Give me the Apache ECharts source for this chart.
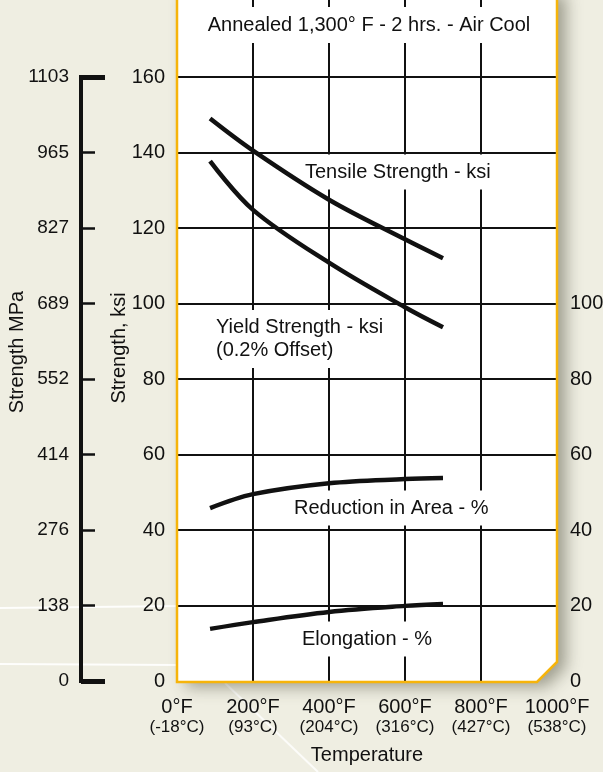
<!DOCTYPE html>
<html lang="en">
<head>
    <meta charset="UTF-8">
    <title>Annealed 1,300° F - Strength vs Temperature</title>
    <style>
        * { margin: 0; padding: 0; }
        body { background: #efeee2; }
        #chart { width: 603px; height: 772px; }
    </style>
</head>
<body>
    <div id="chart"></div>
</body>
</html>
<script src="https://cdn.jsdelivr.net/npm/echarts@6/dist/echarts.min.js"></script>
<script>
    const tempF = [87, 200, 400, 600, 700];
    const tensile = [149, 140.5, 127.5, 117, 112];
    const yieldStr = [137.7, 124.8, 110.8, 99, 93.7];
    const reduction = [45.8, 49.5, 52.4, 53.5, 53.8];
    const elongation = [13.8, 15.6, 18.3, 19.9, 20.4];

    // axis tick labels
    const xTicks = [0, 200, 400, 600, 800, 1000];
    const xTicksC = ['-18', '93', '204', '316', '427', '538'];
    const ksiTicks = [0, 20, 40, 60, 80, 100, 120, 140, 160];
    const mpaTicks = ['0', '138', '276', '414', '552', '689', '827', '965', '1103'];

    const font = "'Liberation Sans', Arial, sans-serif";
    const ink = '#111';
    const gold = '#f6b40a';

    var myChart = echarts.init(document.getElementById('chart'));

    function curve(name, data) {
        return {
            name: name,
            type: 'line',
            xAxisIndex: 0,
            yAxisIndex: 0,
            smooth: 0.35,
            symbol: 'none',
            z: 5,
            lineStyle: { color: ink, width: 4.5 },
            data: tempF.map((t, i) => [t, data[i]])
        };
    }

    function boxText(x, y, text) {
        return {
            type: 'text',
            x: x,
            y: y,
            z: 1,
            style: {
                text: text,
                font: '20px ' + font,
                fill: ink,
                verticalAlign: 'middle',
                backgroundColor: '#fff',
                padding: [6, 3, 6, 3],
                lineHeight: 23
            }
        };
    }

    myChart.setOption({
        backgroundColor: '#efeee2',
        animation: false,
        textStyle: { fontFamily: font },
        grid: [
            { left: 177, right: 46, top: 77, bottom: 91, containLabel: false, outerBoundsMode: 'none' },
            { left: 177, right: 46, top: 0, height: 77, containLabel: false, outerBoundsMode: 'none' }
        ],
        xAxis: [{
            gridIndex: 0,
            type: 'value',
            min: 0,
            max: 1000,
            interval: 200,
            name: 'Temperature',
            nameLocation: 'middle',
            nameGap: 64,
            nameMoveOverlap: false,
            nameTextStyle: { fontSize: 20, color: ink, verticalAlign: 'top' },
            axisLine: { show: false },
            axisTick: { show: false },
            splitLine: { show: true, showMinLine: false, showMaxLine: false, lineStyle: { color: ink, width: 2 } },
            axisLabel: {
                margin: 16,
                formatter: function (v) {
                    var i = xTicks.indexOf(v);
                    return '{f|' + v + '°F}\n{c|(' + xTicksC[i] + '°C)}';
                },
                rich: {
                    f: { fontSize: 20, color: ink, lineHeight: 20, fontFamily: font },
                    c: { fontSize: 17, color: ink, lineHeight: 20, fontFamily: font }
                }
            }
        }, {
            gridIndex: 1,
            type: 'value',
            min: 0,
            max: 1000,
            interval: 200,
            axisLine: { show: false },
            axisTick: { show: false },
            axisLabel: { show: false },
            splitLine: { show: true, showMinLine: false, showMaxLine: false, lineStyle: { color: ink, width: 2 } }
        }],
        yAxis: [{
            gridIndex: 0,
            type: 'value',
            position: 'left',
            min: 0,
            max: 160,
            interval: 20,
            name: 'Strength, ksi',
            nameLocation: 'middle',
            nameRotate: 90,
            nameGap: 48,
            nameMoveOverlap: false,
            nameTextStyle: { fontSize: 20, color: ink, padding: [0, 0, 0, 62] },
            axisLine: { show: false },
            axisTick: { show: false },
            axisLabel: { fontSize: 20, color: ink, margin: 12 },
            splitLine: { show: true, showMinLine: false, lineStyle: { color: ink, width: 2 } }
        }, {
            gridIndex: 0,
            type: 'value',
            position: 'right',
            min: 0,
            max: 160,
            interval: 20,
            axisLine: { show: false },
            axisTick: { show: false },
            splitLine: { show: false },
            axisLabel: {
                fontSize: 20, color: ink, margin: 13,
                formatter: (v) => (v <= 100 ? String(v) : '')
            }
        }, {
            gridIndex: 0,
            type: 'value',
            position: 'left',
            offset: 96,
            min: 0,
            max: 160,
            interval: 20,
            name: 'Strength MPa',
            nameLocation: 'middle',
            nameRotate: 90,
            nameGap: 54,
            nameMoveOverlap: false,
            nameTextStyle: { fontSize: 20, color: ink, padding: [0, 0, 0, 54] },
            axisLine: { show: true, lineStyle: { color: ink, width: 4, cap: 'square' } },
            axisTick: { show: true, inside: true, length: 14, lineStyle: { color: ink, width: 2.5 } },
            splitLine: { show: false },
            axisLabel: {
                fontSize: 19, color: ink, margin: 12,
                formatter: (v) => mpaTicks[ksiTicks.indexOf(v)]
            }
        }, {
            // end caps of the MPa scale
            gridIndex: 0,
            type: 'value',
            position: 'left',
            offset: 96,
            min: 0,
            max: 160,
            interval: 160,
            axisLine: { show: false },
            axisTick: { show: true, inside: true, length: 24, lineStyle: { color: ink, width: 5 } },
            axisLabel: { show: false },
            splitLine: { show: false }
        }, {
            gridIndex: 1,
            type: 'value',
            min: 0,
            max: 1,
            show: false
        }],
        graphic: [
            // faint background streaks
            { type: 'line', z: -20, shape: { x1: 0, y1: 608, x2: 180, y2: 606 }, style: { stroke: '#ffffff', lineWidth: 2, opacity: 0.9 } },
            { type: 'line', z: -20, shape: { x1: 0, y1: 664, x2: 180, y2: 665 }, style: { stroke: '#ffffff', lineWidth: 2, opacity: 0.9 } },
            { type: 'line', z: -20, shape: { x1: 225, y1: 683, x2: 318, y2: 772 }, style: { stroke: '#ffffff', lineWidth: 2, opacity: 0.8 } },
            // white panel with shadow
            {
                type: 'polygon',
                z: -10,
                shape: { points: [[177, -10], [557, -10], [557, 662], [537, 682], [177, 682]] },
                style: {
                    fill: '#ffffff',
                    shadowBlur: 16,
                    shadowColor: 'rgba(60,60,40,0.45)',
                    shadowOffsetX: 9,
                    shadowOffsetY: 5
                }
            },
            // panel border on top of the grid
            {
                type: 'polygon',
                z: 20,
                shape: { points: [[177, -10], [557, -10], [557, 662], [537, 682], [177, 682]] },
                style: { fill: 'none', stroke: gold, lineWidth: 2.5 }
            },
            // title and curve labels
            {
                type: 'text',
                x: 369,
                y: 25,
                z: 1,
                style: {
                    text: 'Annealed 1,300° F - 2 hrs. - Air Cool',
                    font: '20px ' + font,
                    fill: ink,
                    align: 'center',
                    verticalAlign: 'middle',
                    backgroundColor: '#fff',
                    padding: [8, 4, 8, 4]
                }
            },
            boxText(302, 172, 'Tensile Strength - ksi'),
            boxText(213, 339, 'Yield Strength - ksi\n(0.2% Offset)'),
            boxText(291, 508, 'Reduction in Area - %'),
            boxText(299, 639, 'Elongation - %')
        ],
        series: [
            curve('Tensile Strength - ksi', tensile),
            curve('Yield Strength - ksi', yieldStr),
            curve('Reduction in Area - %', reduction),
            curve('Elongation - %', elongation)
        ]
    });
</script>
